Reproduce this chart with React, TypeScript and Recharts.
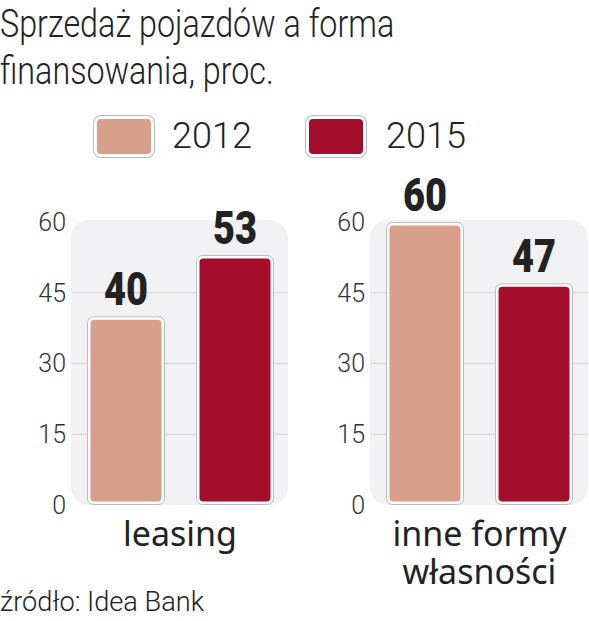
import React from 'react';
import { BarChart, Bar, XAxis, YAxis, CartesianGrid } from 'recharts';

const categories = ['leasing', 'inne formy\nwłasności'];
const seriesNames = ['2012', '2015'];
const values2012 = [40, 60];
const values2015 = [53, 47];
const seriesColors = ['#d8a08a', '#a50d2c'];
const yTicks = [0, 15, 30, 45, 60];
const gridValues = [15, 30, 45];

const TEXT = '#222';
const LIGHT = 'Roboto, sans-serif';

const BarShape = (props: any) => {
  const { x, y, width, height, fill } = props;
  if (!height || height <= 0) return null;
  return (
    <g>
      <rect x={x + 0.5} y={y + 0.5} width={width - 1} height={height - 1} rx={6} fill="#fff" stroke="#bcbcbc" strokeWidth={1} />
      <rect x={x + 3.5} y={y + 3.5} width={width - 7} height={height - 7} rx={4} fill={fill} />
    </g>
  );
};

const ValueLabel = (props: any) => {
  const { x, y, width, value } = props;
  return (
    <text
      x={x + width / 2}
      y={y - 11}
      textAnchor="middle"
      fontFamily="Roboto, sans-serif"
      fontWeight={900}
      fontSize={46}
      fill={TEXT}
      textLength={44}
      lengthAdjust="spacingAndGlyphs"
    >
      {value}
    </text>
  );
};

const CategoryTick = (props: any) => {
  const { x, y, payload } = props;
  const lines = String(payload.value).split('\n');
  return (
    <text x={x} y={y} textAnchor="middle" fontFamily="'Noto Sans', sans-serif" fontSize={34} fill={TEXT}>
      {lines.map((line, i) => (
        <tspan key={i} x={x} dy={i === 0 ? 41 : 38}>
          {line}
        </tspan>
      ))}
    </text>
  );
};

interface PanelProps {
  index: number;
  left: number;
  width: number;
  axisWidth: number;
  marginRight: number;
}

const Panel: React.FC<PanelProps> = ({ index, left, width, axisWidth, marginRight }) => {
  const data = [{ category: categories[index], y2012: values2012[index], y2015: values2015[index] }];
  const plotLeft = left + axisWidth;
  const plotWidth = width - axisWidth - marginRight;
  return (
    <>
      <div
        style={{
          position: 'absolute',
          left: plotLeft - 1,
          top: 220,
          width: plotWidth + 1,
          height: 285,
          background: '#f1f1f3',
          borderRadius: 18,
        }}
      />
      <div style={{ position: 'absolute', left, top: 140 }}>
        <BarChart
          width={width}
          height={465}
          data={data}
          margin={{ top: 82, right: marginRight, bottom: 0, left: 0 }}
          barSize={78}
          barGap={31}
        >
          <CartesianGrid vertical={false} horizontalValues={gridValues} stroke="#d2d2d2" />
          <YAxis
            domain={[0, 60]}
            ticks={yTicks}
            width={axisWidth}
            axisLine={false}
            tickLine={false}
            tickSize={0}
            tickMargin={6}
            interval={0}
            tick={{ fontFamily: LIGHT, fontWeight: 300, fontSize: 25, fill: '#333' }}
          />
          <XAxis
            dataKey="category"
            height={100}
            axisLine={false}
            tickLine={false}
            tickSize={0}
            tickMargin={0}
            tick={<CategoryTick />}
          />
          <Bar dataKey="y2012" name={seriesNames[0]} fill={seriesColors[0]} shape={<BarShape />} label={<ValueLabel />} isAnimationActive={false} />
          <Bar dataKey="y2015" name={seriesNames[1]} fill={seriesColors[1]} shape={<BarShape />} label={<ValueLabel />} isAnimationActive={false} />
        </BarChart>
      </div>
    </>
  );
};

const Swatch = ({ color, left }: { color: string; left: number }) => (
  <div
    style={{
      position: 'absolute',
      left,
      top: 116,
      width: 54,
      height: 35,
      background: color,
      border: '3px solid #fff',
      borderRadius: 7,
      boxShadow: '0 0 0 1px #bcbcbc',
    }}
  />
);

export default function App() {
  const titleStyle: React.CSSProperties = {
    position: 'absolute',
    left: 0,
    fontFamily: LIGHT,
    fontWeight: 300,
    fontSize: 38,
    lineHeight: '38px',
    color: TEXT,
    whiteSpace: 'nowrap',
    transform: 'scaleX(0.85)',
    transformOrigin: 'left top',
  };
  const legendText: React.CSSProperties = {
    position: 'absolute',
    top: 118,
    fontFamily: LIGHT,
    fontWeight: 300,
    fontSize: 36,
    lineHeight: '36px',
    color: TEXT,
  };
  return (
    <div style={{ position: 'absolute', left: 0, top: 0, width: 589, height: 621, background: '#fff', overflow: 'hidden' }}>
      <div style={{ ...titleStyle, top: 5 }}>Sprzedaż pojazdów a forma</div>
      <div style={{ ...titleStyle, top: 52 }}>finansowania, proc.</div>

      <Swatch color={seriesColors[0]} left={94} />
      <div style={{ ...legendText, left: 172 }}>{seriesNames[0]}</div>
      <Swatch color={seriesColors[1]} left={306} />
      <div style={{ ...legendText, left: 386 }}>{seriesNames[1]}</div>

      <Panel index={0} left={0} width={290} axisWidth={72} marginRight={2} />
      <Panel index={1} left={295} width={294} axisWidth={76} marginRight={1} />

      <div
        style={{
          position: 'absolute',
          left: 0,
          top: 588,
          fontFamily: LIGHT,
          fontWeight: 300,
          fontSize: 28,
          lineHeight: '28px',
          color: TEXT,
          whiteSpace: 'nowrap',
          transform: 'scaleX(0.97)',
          transformOrigin: 'left top',
        }}
      >
        źródło: Idea Bank
      </div>
    </div>
  );
}
